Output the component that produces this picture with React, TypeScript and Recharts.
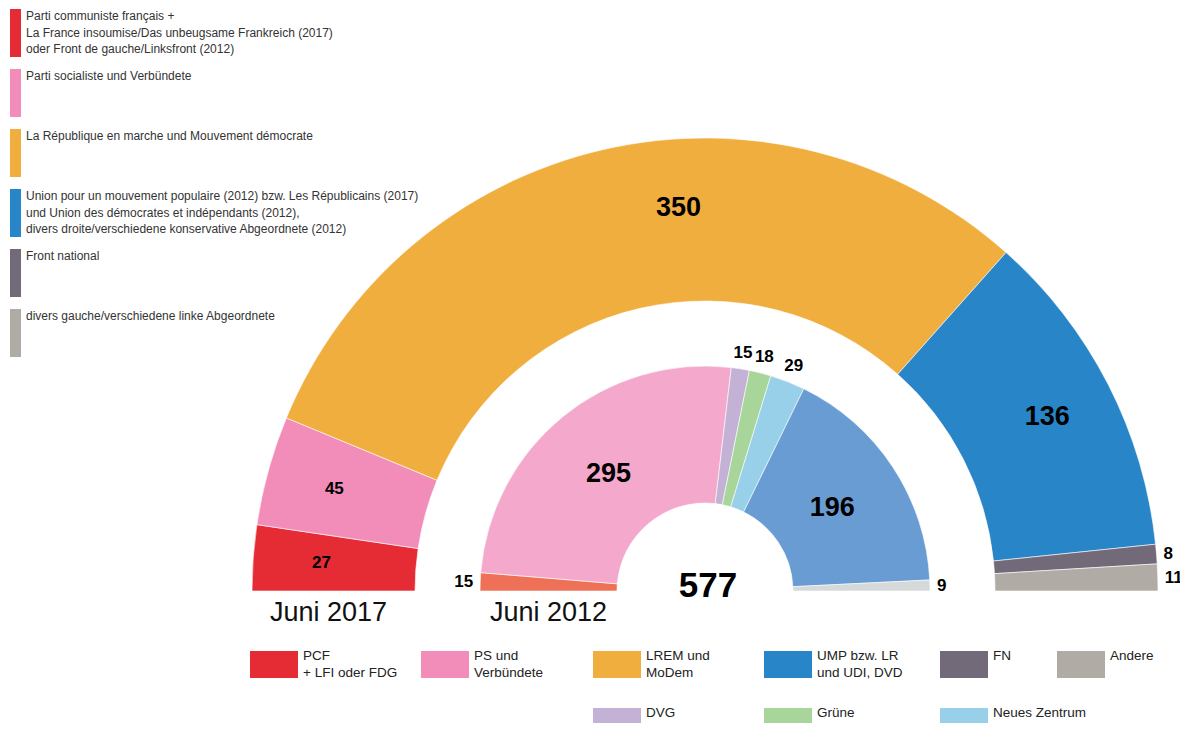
import React from 'react';
import { PieChart, Pie, Cell } from 'recharts';

// ---- Data ----
const partiesOuter = ['PCF + LFI', 'PS und Verbündete', 'LREM und MoDem', 'LR und UDI, DVD', 'FN', 'Andere'];
const seats2017 = [27, 45, 350, 136, 8, 11];
const colors2017 = ['#e52b34', '#f28db9', '#f0ae3e', '#2886c8', '#726a78', '#b0aba4'];

const partiesInner = ['FDG', 'PS und Verbündete', 'DVG', 'Grüne', 'Neues Zentrum', 'UMP und UDI, DVD', 'Andere'];
const seats2012 = [15, 295, 15, 18, 29, 196, 9];
const colors2012 = ['#ee7157', '#f4a8cc', '#c3b2d5', '#a7d59a', '#98d0e9', '#689cd3', '#d5d9da'];

const totalSeats = 577;
const yearLabels = ['Juni 2017', 'Juni 2012'];

const sideLegendTexts = [
  ['Parti communiste français +', 'La France insoumise/Das unbeugsame Frankreich (2017)', 'oder Front de gauche/Linksfront (2012)'],
  ['Parti socialiste und Verbündete'],
  ['La République en marche und Mouvement démocrate'],
  ['Union pour un mouvement populaire (2012) bzw. Les Républicains (2017)', 'und Union des démocrates et indépendants (2012),', 'divers droite/verschiedene konservative Abgeordnete (2012)'],
  ['Front national'],
  ['divers gauche/verschiedene linke Abgeordnete'],
];
const sideLegendColors = ['#e52b34', '#f28db9', '#f0ae3e', '#2886c8', '#726a78', '#b0aba4'];

const bottomLegendTexts = [
  ['PCF', '+ LFI oder FDG'],
  ['PS und', 'Verbündete'],
  ['LREM und', 'MoDem'],
  ['UMP bzw. LR', 'und UDI, DVD'],
  ['FN'],
  ['Andere'],
  ['DVG'],
  ['Grüne'],
  ['Neues Zentrum'],
];
const bottomLegendColors = ['#e52b34', '#f28db9', '#f0ae3e', '#2886c8', '#726a78', '#b0aba4', '#c3b2d5', '#a7d59a', '#98d0e9'];

// ---- Layout ----
const W = 1180;
const H = 715;
const CX = 697;
const CY = 583;
const OUTER = { inner: 290, outer: 453 };
const INNER = { inner: 88, outer: 225 };
const FONT = '"Liberation Sans", Arial, Helvetica, sans-serif';
const bottomLegendSlots = [
  { x: 242, y: 643 }, { x: 413, y: 643 }, { x: 585, y: 643 }, { x: 756, y: 643 }, { x: 932, y: 643 }, { x: 1049, y: 643 },
  { x: 585, y: 700 }, { x: 756, y: 700 }, { x: 932, y: 700 },
];
const LABEL_ANGLE_NUDGE: Record<string, number> = { 'LREM und MoDem': -9 };

const RAD = Math.PI / 180;

function makeLabel(radiusFactor: number, names: string[]) {
  return (props: any) => {
    const { cx, cy, midAngle, innerRadius, outerRadius, value, index, startAngle, endAngle } = props;
    const span = Math.abs((endAngle ?? 0) - (startAngle ?? 0));
    const midR = (innerRadius + outerRadius) / 2;
    const arc = midR * span * RAD;
    const outside = arc < 40;
    const angle = midAngle + (LABEL_ANGLE_NUDGE[names[index]] ?? 0);
    const c = Math.cos(angle * RAD);
    const side = outside && Math.abs(c) > 0.9;
    const r = outside ? outerRadius + (side ? 7 : 17) : innerRadius + radiusFactor * (outerRadius - innerRadius);
    const x = cx + r * c;
    const y = cy - r * Math.sin(angle * RAD);
    const anchor = side ? (c > 0 ? 'start' : 'end') : 'middle';
    const size = value >= 100 ? 27 : 17;
    return (
      <text
        key={`l-${index}`}
        x={x}
        y={y}
        fill="#000"
        fontFamily={FONT}
        fontWeight="bold"
        fontSize={size}
        textAnchor={anchor}
        dominantBaseline="central"
      >
        {value}
      </text>
    );
  };
}

const data2017 = partiesOuter.map((name, i) => ({ name, value: seats2017[i] }));
const data2012 = partiesInner.map((name, i) => ({ name, value: seats2012[i] }));

export default function App() {
  return (
    <div style={{ position: 'relative', width: W, height: H, fontFamily: FONT, color: '#333' }}>
      <PieChart width={W} height={H} margin={{ top: 0, right: 0, bottom: 0, left: 0 }} style={{ overflow: 'visible' }}>
        <Pie
          data={data2017}
          dataKey="value"
          nameKey="name"
          cx={CX}
          cy={CY}
          startAngle={180}
          endAngle={0}
          innerRadius={OUTER.inner}
          outerRadius={OUTER.outer}
          stroke="#fff"
          strokeWidth={0.6}
          isAnimationActive={false}
          labelLine={false}
          label={makeLabel(0.58, partiesOuter)}
        >
          {data2017.map((d, i) => (
            <Cell key={d.name} fill={colors2017[i]} />
          ))}
        </Pie>
        <Pie
          data={data2012}
          dataKey="value"
          nameKey="name"
          cx={CX}
          cy={CY}
          startAngle={180}
          endAngle={0}
          innerRadius={INNER.inner}
          outerRadius={INNER.outer}
          stroke="#fff"
          strokeWidth={0.6}
          isAnimationActive={false}
          labelLine={false}
          label={makeLabel(0.47, partiesInner)}
        >
          {data2012.map((d, i) => (
            <Cell key={d.name} fill={colors2012[i]} />
          ))}
        </Pie>
        <text x={CX + 3} y={CY - 7} textAnchor="middle" dominantBaseline="central" fontFamily={FONT} fontWeight="bold" fontSize={35} fill="#000">
          {totalSeats}
        </text>
        <text x={CX - (OUTER.inner + OUTER.outer) / 2 - 5} y={CY + 21} textAnchor="middle" dominantBaseline="central" fontFamily={FONT} fontSize={27} fill="#111">
          {yearLabels[0]}
        </text>
        <text x={CX - (INNER.inner + INNER.outer) / 2} y={CY + 21} textAnchor="middle" dominantBaseline="central" fontFamily={FONT} fontSize={27} fill="#111">
          {yearLabels[1]}
        </text>
      </PieChart>

      {sideLegendTexts.map((lines, i) => (
        <div key={`s${i}`} style={{ position: 'absolute', left: 2, top: 1 + i * 60, display: 'flex' }}>
          <div style={{ width: 11, height: 48, background: sideLegendColors[i], flexShrink: 0 }} />
          <div style={{ marginLeft: 5, fontSize: 12, lineHeight: '16.6px', marginTop: -1, whiteSpace: 'nowrap', color: '#333' }}>
            {lines.map((t, j) => (
              <div key={j}>{t}</div>
            ))}
          </div>
        </div>
      ))}

      {bottomLegendTexts.map((lines, i) => (
        <div key={`b${i}`} style={{ position: 'absolute', left: bottomLegendSlots[i].x, top: bottomLegendSlots[i].y, display: 'flex' }}>
          <div style={{ width: 48, height: 27, background: bottomLegendColors[i], flexShrink: 0 }} />
          <div style={{ marginLeft: 5, fontSize: 13.5, lineHeight: '17px', marginTop: -4, whiteSpace: 'nowrap', color: '#222' }}>
            {lines.map((t, j) => (
              <div key={j}>{t}</div>
            ))}
          </div>
        </div>
      ))}
    </div>
  );
}
